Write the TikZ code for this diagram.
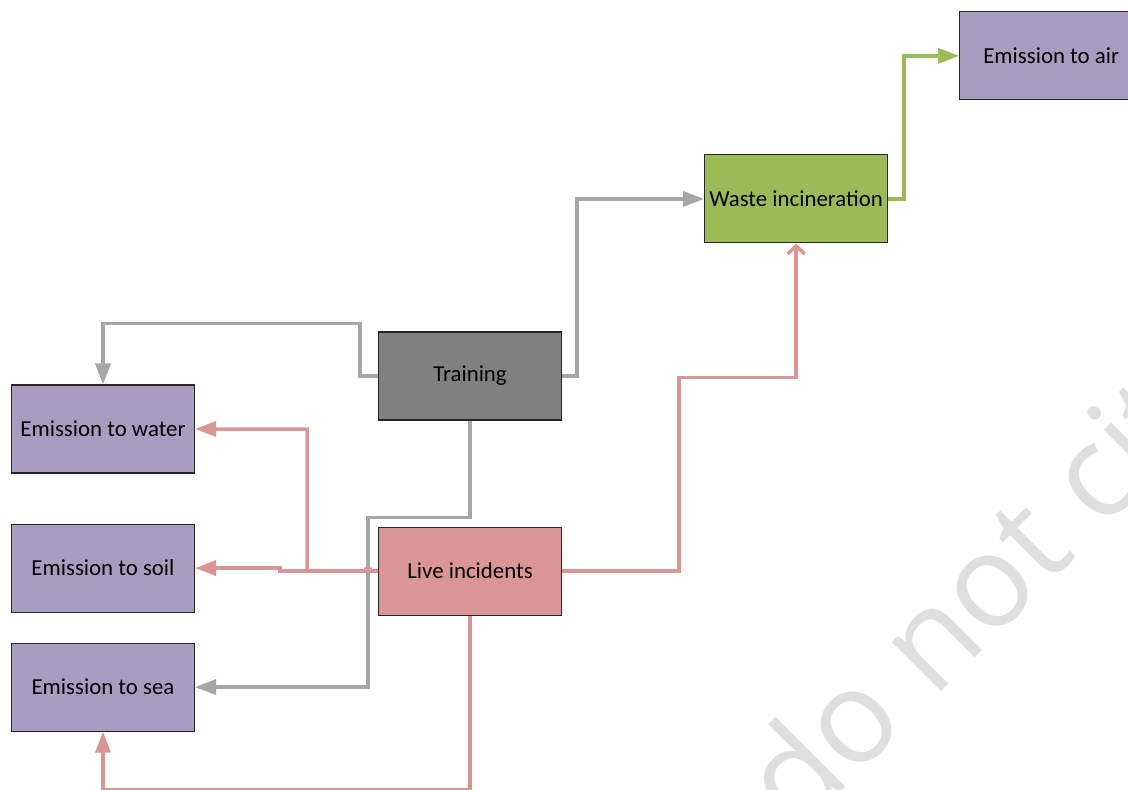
\documentclass[tikz,border=0pt]{standalone}
\usepackage{fontspec}
\setmainfont{Carlito}
\newfontfamily\markfont{Open Sans}
\definecolor{emispurple}{RGB}{170,155,192}
\definecolor{traingray}{RGB}{128,128,128}
\definecolor{livepink}{RGB}{217,150,148}
\definecolor{wastegreen}{RGB}{155,187,89}
\definecolor{linegray}{RGB}{166,166,166}
\definecolor{markgray}{RGB}{223,223,223}
\usetikzlibrary{arrows.meta,positioning,calc}
\tikzset{
	box/.style={
		rectangle,
		draw=black!85,
		line width=0.6pt,
		minimum width=3.66cm,
		minimum height=1.76cm,
		inner sep=1pt,
		font=\fontsize{13}{15}\selectfont,
	},
	emission/.style={
		box,
		fill=emispurple,
	},
	training/.style={
		box,
		fill=traingray,
	},
	incident/.style={
		box,
		fill=livepink,
	},
	incineration/.style={
		box,
		fill=wastegreen,
	},
	flow/.style={
		line width=2pt,
		-{Triangle[length=4.2mm,width=3mm]},
	},
	openflow/.style={
		line width=2pt,
		-{Straight Barb[length=1.6mm,width=3.4mm]},
	},
}

\begin{document}
\begin{tikzpicture}
	\useasboundingbox (0,0) rectangle (22.56,-15.78);
	\clip (0,0) rectangle (22.56,-15.78);
	% watermark
	\node[text=markgray,font=\markfont\fontsize{74}{74}\selectfont,rotate=45,anchor=base west] (mark) at (15.86,-16.8) {do not cite};

	\node[emission] (water) at (2.06,-8.58) {Emission to water};
	\node[emission,below=1cm of water] (soil) {Emission to soil};
	\node[emission,below=6mm of soil] (sea) {Emission to sea};
	\node[incident,right=3.66cm of soil,yshift=-0.6mm] (live) {Live incidents};
	\node[training,above=2.12cm of live] (train) {Training};
	\node[incineration,above right=1.76cm and 2.84cm of train] (waste) {Waste incineration};
	\node[emission,above right=1.08cm and 1.42cm of waste] (air) {Emission to air};

	\draw[flow,linegray] (train.west) -- ++(-0.36,0) |- ([yshift=1.22cm]water.north) -- (water.north);
	\draw[flow,linegray] (train.east) -- ++(0.3,0) |- (waste.west);
	\draw[flow,linegray] (train.south) -- ++(0,-1.94) -- ++(-2.04,0) |- (sea.east);

	\draw[flow,livepink] (live.west) -- ++(-0.14,0) arc[start angle=0,end angle=180,radius=0.06] -- ++(-1.16,0) |- (water.east);
	\draw[flow,livepink] (live.west) -- ++(-1.96,0) |- (soil.east);
	\draw[openflow,livepink] (live.east) -- ++(2.34,0) |- ([yshift=-2.68cm]waste.south) -- (waste.south);
	\draw[flow,livepink] (live.south) -- ++(0,-3.48) -| (sea.south);

	\draw[flow,wastegreen] (waste.east) -- ++(0.32,0) |- (air.west);
\end{tikzpicture}
\end{document}
